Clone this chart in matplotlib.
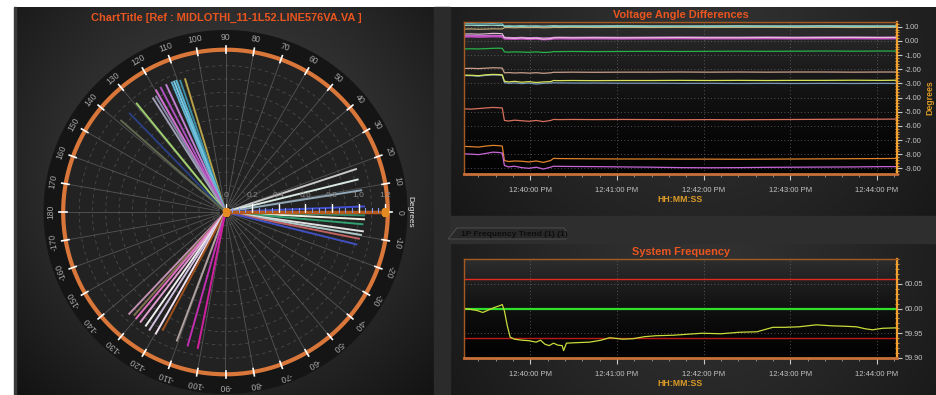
import numpy as np
import matplotlib
matplotlib.use("Agg")
import matplotlib.pyplot as plt
import matplotlib.dates as mdates
from matplotlib.ticker import MultipleLocator, FixedLocator, FormatStrFormatter
from matplotlib.patches import Rectangle, Polygon
from datetime import datetime, timedelta

plt.rcParams['font.family'] = ['Liberation Sans', 'DejaVu Sans']
plt.rcParams['axes.unicode_minus'] = False

# ---------------- phasor diagram data ----------------
phasor_angles_deg = [106.9, 109.0, 110.5, 111.5, 112.5, 115.0, 117.5, 119.7, 121.0, 122.5,
                     129.3, 134.2, 138.8,
                     18.2, 13.8, 9.1, 2.3,
                     -1.4, -3.0, -5.1, -8.0, -9.6, -11.3, -13.9,
                     -133.4, -131.5, -130.0, -127.7, -125.0, -122.8, -119.8, -118.0,
                     -110.7, -105.8, -101.5]
phasor_mags = [1.05, 1.05, 1.06, 1.06, 1.06, 1.06, 1.06, 1.06, 1.02, 1.02,
               1.06, 1.04, 1.05,
               1.04, 1.03, 1.04, 1.05,
               1.05, 1.05, 1.04, 1.05, 1.04, 1.03, 1.02,
               1.06, 1.04, 1.05, 1.05, 1.05, 1.06, 1.06, 1.01,
               1.04, 1.05, 1.05]
phasor_colors = ['#b8a24a', '#3a8aa0', '#5ab8d8', '#7cc8e0', '#60b0d0', '#c080d0', '#b050c0',
                 '#d070d0', '#8888aa', '#a0a0b8',
                 '#a0d070', '#2a3f80', '#606850',
                 '#c8c8c8', '#d8e8e0', '#90a8b8', '#4050d0',
                 '#2f8a6a', '#f0f0e0', '#30a070', '#e0e0e0', '#b0c8c8', '#c06060', '#4050c0',
                 '#c090b0', '#807050', '#e070c0', '#e0a0d0', '#f0f0f0', '#d0c0e0', '#f0e0f0',
                 '#a0501a', '#b0a0a0', '#c030b0', '#d020a0']
ref_angle_deg = 0.0
ref_mag = 1.2
angle_ticks_deg = list(range(-170, 181, 10))
radial_ticks = [0, 0.2, 0.4, 0.6, 0.8, 1.0, 1.2]
radial_tick_labels = ['0', '0.2', '0.4', '0.6', '0.8', '1.0', '1.2']

# ---------------- voltage angle differences ----------------
start_time = datetime(2024, 1, 1, 12, 39, 14)
window_seconds = 300
va_seconds = [0, 5, 10, 15, 20, 24, 26.5, 28, 31, 35, 40, 45, 50, 55, 60, 62, 66, 75, 90,
              110, 130, 150, 170, 190, 210, 230, 250, 270, 290, 300]
va_cyan = [1.20, 1.21, 1.19, 1.20, 1.22, 1.19, 1.20, 1.00, 1.02, 0.99, 1.01, 0.98, 1.00, 0.97, 0.99,
           1.01, 1.00, 1.01, 1.00, 1.01, 1.00, 1.00, 1.01, 1.00, 1.01, 1.00, 1.00, 1.01, 1.00, 1.01]
va_teal = [1.09, 1.10, 1.08, 1.09, 1.10, 1.08, 1.09, 1.05, 1.06, 1.05, 1.07, 1.05, 1.06, 1.04, 1.06,
           1.07, 1.06, 1.06, 1.06, 1.07, 1.06, 1.06, 1.06, 1.07, 1.06, 1.06, 1.07, 1.06, 1.06, 1.06]
va_tan = [0.83, 0.84, 0.82, 0.83, 0.85, 0.84, 0.84, 0.93, 0.94, 0.92, 0.94, 0.93, 0.94, 0.92, 0.93,
          0.95, 0.94, 0.95, 0.94, 0.95, 0.94, 0.95, 0.94, 0.95, 0.95, 0.94, 0.95, 0.94, 0.95, 0.95]
va_pink = [0.48, 0.49, 0.47, 0.49, 0.53, 0.52, 0.50, 0.22, 0.20, 0.18, 0.21, 0.17, 0.19, 0.12, 0.15,
           0.21, 0.22, 0.21, 0.22, 0.21, 0.22, 0.23, 0.22, 0.22, 0.23, 0.22, 0.23, 0.24, 0.23, 0.23]
va_magenta = [0.30, 0.31, 0.29, 0.30, 0.32, 0.31, 0.30, 0.16, 0.15, 0.14, 0.16, 0.13, 0.15, 0.11, 0.13,
              0.16, 0.17, 0.16, 0.17, 0.16, 0.17, 0.18, 0.17, 0.17, 0.18, 0.17, 0.18, 0.18, 0.17, 0.18]
va_lavender = [0.36, 0.37, 0.35, 0.36, 0.38, 0.37, 0.36, 0.24, 0.23, 0.22, 0.24, 0.21, 0.23, 0.19, 0.21,
               0.24, 0.25, 0.24, 0.25, 0.24, 0.25, 0.26, 0.25, 0.25, 0.26, 0.25, 0.26, 0.26, 0.25, 0.26]
va_green = [-0.57, -0.56, -0.57, -0.55, -0.53, -0.52, -0.53, -0.78, -0.80, -0.78, -0.79, -0.81, -0.78,
            -0.82, -0.80, -0.76, -0.76, -0.75, -0.76, -0.75, -0.74, -0.75, -0.74, -0.73, -0.74, -0.73,
            -0.72, -0.73, -0.72, -0.72]
va_rose = [-1.95, -1.94, -1.96, -1.93, -1.90, -1.91, -1.92, -2.26, -2.24, -2.27, -2.25, -2.28, -2.25,
           -2.29, -2.26, -2.22, -2.22, -2.21, -2.22, -2.21, -2.21, -2.20, -2.21, -2.20, -2.21, -2.20,
           -2.20, -2.21, -2.20, -2.20]
va_yellow = [-2.42, -2.43, -2.46, -2.40, -2.37, -2.38, -2.40, -2.85, -2.90, -2.86, -2.92, -2.88, -2.94,
             -2.90, -2.88, -2.80, -2.81, -2.80, -2.81, -2.80, -2.80, -2.79, -2.80, -2.79, -2.80, -2.79,
             -2.79, -2.78, -2.79, -2.78]
va_steel = [-2.45, -2.46, -2.50, -2.44, -2.41, -2.42, -2.44, -2.95, -3.00, -2.97, -3.02, -2.98, -3.05,
            -3.00, -2.98, -2.96, -2.97, -2.98, -2.98, -2.99, -2.99, -3.00, -3.00, -3.01, -3.00, -3.01,
            -3.00, -3.01, -3.00, -3.01]
va_salmon = [-4.80, -4.82, -4.78, -4.74, -4.70, -4.72, -4.74, -5.62, -5.66, -5.60, -5.64, -5.68, -5.62,
             -5.70, -5.62, -5.55, -5.56, -5.55, -5.56, -5.55, -5.56, -5.57, -5.56, -5.57, -5.56, -5.55,
             -5.54, -5.53, -5.53, -5.52]
va_orange = [-7.45, -7.47, -7.50, -7.43, -7.38, -7.40, -7.43, -8.45, -8.52, -8.48, -8.50, -8.55, -8.48,
             -8.58, -8.45, -8.30, -8.31, -8.32, -8.33, -8.34, -8.34, -8.35, -8.35, -8.36, -8.35, -8.34,
             -8.33, -8.32, -8.31, -8.30]
va_violet = [-7.98, -8.00, -8.03, -7.95, -7.86, -7.88, -7.92, -8.80, -8.90, -8.85, -8.95, -9.00, -8.92,
             -9.05, -8.92, -8.85, -8.86, -8.87, -8.88, -8.90, -8.92, -8.95, -8.96, -8.95, -8.93, -8.92,
             -8.91, -8.90, -8.88, -8.88]
va_lines = [(va_cyan, '#5fc4d6', 0.9), (va_teal, '#9fd9c8', 0.8), (va_tan, '#c9b27a', 0.8),
            (va_lavender, '#d78fe0', 1.0), (va_magenta, '#c04ec0', 1.6), (va_pink, '#e9c5dc', 0.8),
            (va_green, '#28b04a', 0.9), (va_rose, '#caa08c', 0.9), (va_steel, '#7898b8', 0.9),
            (va_yellow, '#d8e45a', 0.9), (va_salmon, '#d8705e', 0.9), (va_orange, '#e0822c', 0.9),
            (va_violet, '#c865d8', 0.9)]
va_yticks = [1, 0, -1, -2, -3, -4, -5, -6, -7, -8, -9]

# ---------------- system frequency ----------------
freq_seconds = [0, 5, 9, 13, 17, 21, 25, 26.5, 28, 30, 32, 35, 40, 45, 50, 53, 56, 59, 62, 65, 68, 69,
                71, 78, 87, 95, 101, 110, 117, 125, 133, 145, 155, 165, 178, 191, 203, 214, 222, 232,
                244, 255, 265, 272, 278, 283, 290, 300]
freq_values = [60.000, 59.998, 59.996, 59.992, 59.997, 60.002, 60.006, 60.008, 59.995, 59.965, 59.942,
               59.938, 59.936, 59.935, 59.932, 59.936, 59.928, 59.925, 59.930, 59.926, 59.925, 59.915,
               59.930, 59.931, 59.932, 59.936, 59.941, 59.938, 59.939, 59.943, 59.945, 59.946, 59.948,
               59.950, 59.949, 59.952, 59.953, 59.962, 59.962, 59.963, 59.967, 59.965, 59.964, 59.963,
               59.959, 59.957, 59.960, 59.961]
freq_nominal = 60.00
freq_high_limit = 60.06
freq_low_limit = 59.94
freq_yticks = [59.90, 59.95, 60.00, 60.05]

TITLE_COLOR = '#ea551f'
AXIS_LABEL_COLOR = '#dc9a26'
TICK_LABEL_COLOR = '#c4c4c4'

W, H = 936, 395
fig = plt.figure(figsize=(W / 100, H / 100), dpi=100, facecolor='white')


def frac(x0, y0, x1, y1):
    """Pixel box (top-left origin) to figure fraction rectangle."""
    return [x0 / W, 1 - y1 / H, (x1 - x0) / W, (y1 - y0) / H]


# ---------------- panel backgrounds ----------------
bg = fig.add_axes([0, 0, 1, 1], zorder=0)
bg.axis('off')


def radial_fill(x0, x1, y0, y1, cx, cy, v_in, v_out, scale, power=1.3):
    xs = np.linspace(x0, x1, 240)
    ys = np.linspace(y0, y1, 240)
    X, Y = np.meshgrid(xs, ys)
    d = np.clip(np.hypot(X - cx, Y - cy) / scale, 0, 1) ** power
    v = (v_in + (v_out - v_in) * d) / 255.0
    bg.imshow(np.dstack([v, v, v]), extent=[x0, x1, y1, y0], origin='upper',
              aspect='auto', interpolation='bilinear')


def vertical_fill(x0, x1, y0, y1, v_top, v_bot, power=1.6):
    f = np.linspace(0, 1, 200)[:, None]
    v = (v_bot + (v_top - v_bot) * (1 - f) ** power) / 255.0
    v = np.repeat(v, 4, axis=1)
    bg.imshow(np.dstack([v, v, v]), extent=[x0, x1, y1, y0], origin='upper',
              aspect='auto', interpolation='bilinear')


bg.add_patch(Rectangle((434, 7), 16, 388, color='#2b2b2b'))
radial_fill(14, 434, 7, 395, 226, 170, 66, 14, 330)
bg.add_patch(Rectangle((14, 7), 2, 388, color='#3a3a3a'))
radial_fill(450, 936, 7, 216, 700, 40, 50, 20, 330)
bg.add_patch(Rectangle((450, 216), 486, 27, color='#2e2e2e'))
radial_fill(450, 936, 243, 395, 700, 250, 50, 20, 330)
vertical_fill(464, 897, 22, 174, 46, 3)
vertical_fill(464, 897, 259, 358, 46, 3)

# tab header of the frequency panel
bg.add_patch(Polygon([(448, 239), (457, 228), (564, 228), (566, 231), (566, 239)],
                     closed=True, facecolor='#282828', edgecolor='#4a4a4a', lw=0.8))
bg.text(461, 234, '1P Frequency Trend (1) (1)', color='#0e0e0e', fontsize=6,
        fontweight='bold', va='center', ha='left')
bg.set_xlim(0, W)
bg.set_ylim(H, 0)

# ---------------- phasor (polar) chart ----------------
CX, CY = 225.5, 212
R_PX = 182
pax = fig.add_axes(frac(CX - R_PX, CY - R_PX, CX + R_PX, CY + R_PX), projection='polar', zorder=2)
R_OUT = 1.368
R_ORANGE = 1.22
pax.set_facecolor('#151515')
pax.set_ylim(0, R_OUT)
pax.set_xticks([])
pax.set_yticks([])
pax.grid(False)
pax.spines['polar'].set_visible(False)

circ = np.linspace(0, 2 * np.pi, 721)
pax.fill(circ, np.full_like(circ, R_ORANGE), color='#222222', zorder=0)
for r in np.arange(0.1, 1.2, 0.1):
    pax.plot(circ, np.full_like(circ, r), color='#4a4a4a', lw=0.6, ls=(0, (4, 4)), zorder=1)
for a in range(0, 360, 10):
    pax.plot([np.deg2rad(a)] * 2, [0.05, R_ORANGE], color='#626262', lw=0.6, alpha=0.8, zorder=1)
pax.plot(circ, np.full_like(circ, R_ORANGE), color='#d9773a', lw=3, zorder=3)
for a in angle_ticks_deg:
    t = np.deg2rad(a)
    pax.plot([t, t], [R_ORANGE - 0.025, R_ORANGE + 0.03], color='white', lw=1.2, zorder=4)
    pax.text(t, 1.315, str(a), rotation=a - 90, rotation_mode='anchor', ha='center',
             va='center', color='#a4a4a4', fontsize=6.2)

for a, m, c in zip(phasor_angles_deg, phasor_mags, phasor_colors):
    pax.plot([np.deg2rad(a)] * 2, [0, m], color=c, lw=1.4, solid_capstyle='butt', zorder=5)

# reference phasor with its end markers and radial scale
pax.plot([np.deg2rad(ref_angle_deg)] * 2, [0, ref_mag], color='#b55a1a', lw=2.5, zorder=6)
pax.plot([np.deg2rad(ref_angle_deg)] * 2, [0, ref_mag], ls='none', marker='s', ms=5,
         color='#e38a22', zorder=7)
minor_r = np.arange(0.05, 1.2, 0.05)
pax.plot(np.zeros_like(minor_r), minor_r, ls='none', marker=2, ms=3, mew=0.8,
         color='#8a98e8', zorder=6)
pax.plot(np.zeros(len(radial_ticks)), radial_ticks, ls='none', marker=2, ms=6, mew=1.0,
         color='white', zorder=6)
for r, lab in zip(radial_ticks, radial_tick_labels):
    pax.annotate(lab, xy=(0, r), xytext=(0, 12), textcoords='offset points', ha='center',
                 va='center', color='#8a8a8a', fontsize=6, zorder=6)

fig.text(410 / W, 1 - 212 / H, 'Degrees', rotation=270, color='#e8e8e8', fontsize=6,
         ha='center', va='center')
fig.text(226 / W, 1 - 18 / H, 'ChartTitle [Ref : MIDLOTHI_11-1L52.LINE576VA.VA ]',
         color=TITLE_COLOR, fontsize=7.9, fontweight='bold', ha='center', va='center')


# ---------------- shared styling for the trend charts ----------------
def style_trend(ax):
    ax.set_facecolor('none')
    ax.set_xlim(start_time, start_time + timedelta(seconds=window_seconds))
    ax.xaxis.set_major_locator(mdates.MinuteLocator())
    ax.xaxis.set_major_formatter(mdates.DateFormatter('%I:%M:%S %p'))
    ax.xaxis.set_minor_locator(mdates.SecondLocator(bysecond=[12, 24, 36, 48]))
    ax.yaxis.tick_right()
    ax.yaxis.set_label_position('right')
    for side in ('top', 'left'):
        ax.spines[side].set_color('#a55a22')
        ax.spines[side].set_linewidth(1.0)
    ax.spines['bottom'].set_color('#c8703a')
    ax.spines['bottom'].set_linewidth(2.0)
    ax.spines['right'].set_color('#f2a032')
    ax.spines['right'].set_linewidth(1.6)
    ax.tick_params(axis='x', which='major', length=4, width=0.8, color='#c8c8c8',
                   labelsize=5.5, labelcolor=TICK_LABEL_COLOR, pad=5)
    ax.tick_params(axis='x', which='minor', length=2.5, width=0.6, color='#a0a0a0')
    ax.tick_params(axis='y', which='major', length=3.5, width=0.8, color='#c8c8c8',
                   labelsize=5.3, labelcolor=TICK_LABEL_COLOR, pad=2)
    ax.tick_params(axis='y', which='minor', length=3, width=0.6, color='#f2a032',
                   direction='inout')
    ax.grid(True, which='major', color='#6a6a6a', ls=(0, (1, 3)), lw=0.6)
    ax.set_xlabel('HH:MM:SS', color=AXIS_LABEL_COLOR, fontsize=6.3, fontweight='bold', labelpad=1)


va_times = [start_time + timedelta(seconds=s) for s in va_seconds]
ax1 = fig.add_axes(frac(464, 22, 897, 174), zorder=2)
for vals, col, lw in va_lines:
    ax1.plot(va_times, vals, color=col, lw=lw)
style_trend(ax1)
ax1.set_ylim(-9.4, 1.33)
ax1.yaxis.set_major_locator(FixedLocator(va_yticks))
ax1.yaxis.set_minor_locator(MultipleLocator(0.2))
ax1.yaxis.set_major_formatter(FormatStrFormatter('%.2f'))
ax1.set_ylabel('Degrees', color=AXIS_LABEL_COLOR, fontsize=6.3, fontweight='bold', labelpad=3)
ax1.set_title('Voltage Angle Differences', color=TITLE_COLOR, fontsize=7.9,
              fontweight='bold', pad=3)

freq_times = [start_time + timedelta(seconds=s) for s in freq_seconds]
ax2 = fig.add_axes(frac(464, 259, 897, 358), zorder=2)
ax2.axhline(freq_high_limit, color='#e02a1e', lw=1.0)
ax2.axhline(freq_low_limit, color='#b81a18', lw=1.0)
ax2.axhline(freq_nominal, color='#2ee02a', lw=1.6)
ax2.plot(freq_times, freq_values, color='#c8dc3a', lw=0.9)
style_trend(ax2)
ax2.set_ylim(59.90, 60.10)
ax2.yaxis.set_major_locator(FixedLocator(freq_yticks))
ax2.yaxis.set_minor_locator(MultipleLocator(0.01))
ax2.yaxis.set_major_formatter(FormatStrFormatter('%.2f'))
ax2.set_title('System Frequency', color=TITLE_COLOR, fontsize=7.9, fontweight='bold', pad=3)

fig.savefig('out.png', dpi=100, facecolor='white')
